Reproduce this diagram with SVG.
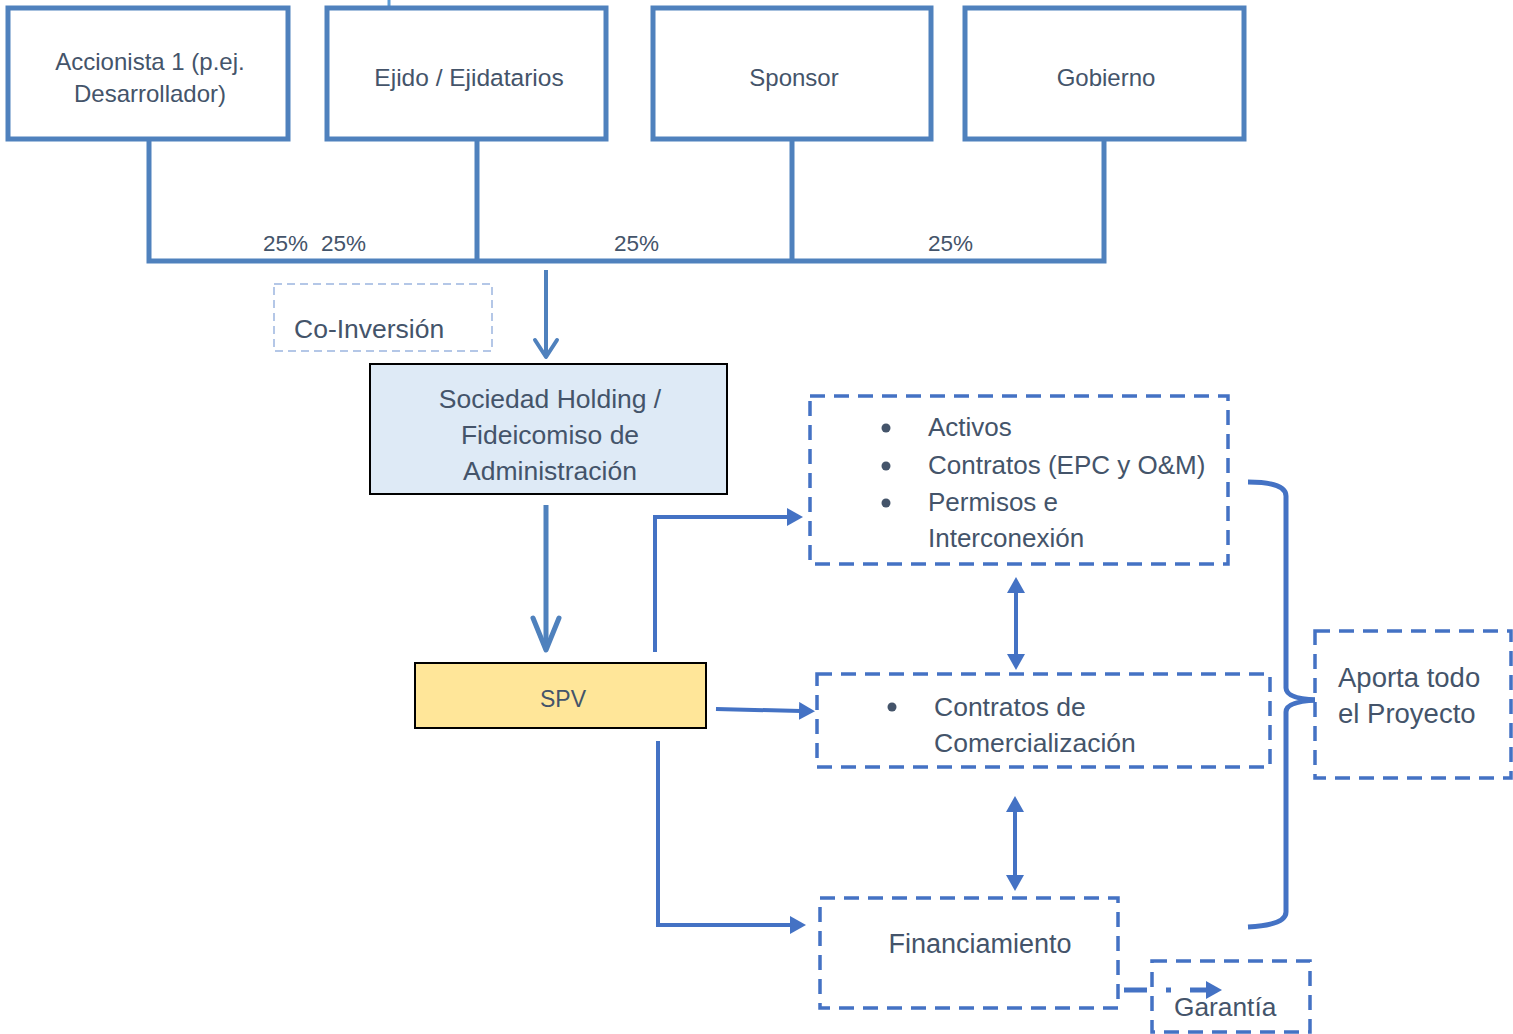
<svg xmlns="http://www.w3.org/2000/svg" width="1513" height="1034" viewBox="0 0 1513 1034">
<defs>
<style>
.t{font-family:"Liberation Sans",Arial,sans-serif;fill:#44546A;}
.top{fill:#fff;stroke:#4F81BD;stroke-width:5;}
.br{fill:none;stroke:#4F81BD;stroke-width:5;}
.dash{fill:#fff;stroke:#4472C4;stroke-width:3.5;stroke-dasharray:15 9;}
.con{fill:none;stroke:#4472C4;stroke-width:4;}
.chev{fill:none;stroke:#4F81BD;stroke-linecap:round;stroke-linejoin:round;}
</style>
<marker id="ah" viewBox="0 0 16 18" refX="2" refY="9" markerWidth="16" markerHeight="18" markerUnits="userSpaceOnUse" orient="auto-start-reverse">
<path d="M0,0 L16,9 L0,18 Z" fill="#4472C4"/>
</marker>
</defs>

<g id="connectors">
<line x1="389" y1="0" x2="389" y2="6" stroke="#5B9BD5" stroke-width="3"/>
<path class="br" d="M149,139 V261 H1104 V139 M477,139 V261 M792,139 V261"/>
<line x1="546" y1="270" x2="546" y2="356" stroke="#4F81BD" stroke-width="4"/>
<polyline class="chev" stroke-width="4" points="535,340 546,357 557,340"/>
<line x1="546" y1="505" x2="546" y2="648" stroke="#4F81BD" stroke-width="5"/>
<polyline class="chev" stroke-width="5" points="533,618 546,650 559,618"/>
<path class="con" d="M655,652 V517 H789" marker-end="url(#ah)"/>
<path class="con" d="M716,709 L801,711" marker-end="url(#ah)"/>
<path class="con" d="M658,741 V925 H792" marker-end="url(#ah)"/>
<path class="con" d="M1016,591 V656" marker-start="url(#ah)" marker-end="url(#ah)"/>
<path class="con" d="M1015,810 V877" marker-start="url(#ah)" marker-end="url(#ah)"/>
<path fill="none" stroke="#4472C4" stroke-width="5" d="M1248,482 Q1286,482 1286,496 V688 Q1286,700 1325,700 Q1286,700 1286,712 V912 Q1286,925 1248,927"/>
</g>

<g id="accionista">
<rect class="top" x="8" y="8" width="280" height="131"/>
<text class="t" font-size="24" text-anchor="middle" x="150" y="70">Accionista 1 (p.ej.</text>
<text class="t" font-size="24" text-anchor="middle" x="150" y="102">Desarrollador)</text>
</g>
<g id="ejido">
<rect class="top" x="327" y="8" width="279" height="131"/>
<text class="t" font-size="24.5" text-anchor="middle" x="469" y="86">Ejido / Ejidatarios</text>
</g>
<g id="sponsor">
<rect class="top" x="653" y="8" width="278" height="131"/>
<text class="t" font-size="24" text-anchor="middle" x="794" y="86">Sponsor</text>
</g>
<g id="gobierno">
<rect class="top" x="965" y="8" width="279" height="131"/>
<text class="t" font-size="24" text-anchor="middle" x="1106" y="86">Gobierno</text>
</g>

<g id="percentages">
<text class="t" font-size="22.5" x="263" y="251">25%</text>
<text class="t" font-size="22.5" x="321" y="251">25%</text>
<text class="t" font-size="22.5" x="614" y="251">25%</text>
<text class="t" font-size="22.5" x="928" y="251">25%</text>
</g>

<g id="coinversion">
<rect x="274" y="284" width="218" height="67" fill="#fff" stroke="#B4C7E7" stroke-width="2" stroke-dasharray="8 5"/>
<text class="t" font-size="26.5" x="294" y="338">Co-Inversión</text>
</g>

<g id="holding">
<rect x="370" y="364" width="357" height="130" fill="#DEEAF6" stroke="#000" stroke-width="2"/>
<text class="t" font-size="26.5" text-anchor="middle" x="550" y="408">Sociedad Holding /</text>
<text class="t" font-size="26.5" text-anchor="middle" x="550" y="444">Fideicomiso de</text>
<text class="t" font-size="26.5" text-anchor="middle" x="550" y="480">Administración</text>
</g>

<g id="spv">
<rect x="415" y="663" width="291" height="65" fill="#FFE699" stroke="#000" stroke-width="2"/>
<text class="t" font-size="23" text-anchor="middle" x="563" y="707">SPV</text>
</g>

<g id="activos">
<rect class="dash" x="810" y="396" width="418" height="168"/>
<circle cx="886" cy="428" r="4.5" fill="#44546A"/>
<circle cx="886" cy="466" r="4.5" fill="#44546A"/>
<circle cx="886" cy="503" r="4.5" fill="#44546A"/>
<text class="t" font-size="26" x="928" y="436">Activos</text>
<text class="t" font-size="26" x="928" y="474">Contratos (EPC y O&amp;M)</text>
<text class="t" font-size="26" x="928" y="511">Permisos e</text>
<text class="t" font-size="26" x="928" y="547">Interconexión</text>
</g>

<g id="comercializacion">
<rect class="dash" x="817" y="674" width="453" height="93"/>
<circle cx="892" cy="707" r="4.5" fill="#44546A"/>
<text class="t" font-size="26.5" x="934" y="716">Contratos de</text>
<text class="t" font-size="26.5" x="934" y="752">Comercialización</text>
</g>

<g id="financiamiento">
<rect class="dash" x="820" y="898" width="298" height="110"/>
<text class="t" font-size="27" text-anchor="middle" x="980" y="953">Financiamiento</text>
</g>

<g id="aporta">
<rect class="dash" x="1315" y="631" width="196" height="147"/>
<text class="t" font-size="27.5" x="1338" y="687">Aporta todo</text>
<text class="t" font-size="27.5" x="1338" y="723">el Proyecto</text>
</g>

<g id="garantia">
<rect class="dash" x="1152" y="961" width="158" height="71"/>
<text class="t" font-size="26.3" x="1174" y="1016">Garantía</text>
</g>

<g id="connector-garantia">
<path fill="none" stroke="#4472C4" stroke-width="5" stroke-dasharray="23 19 5 19 30" d="M1124,990 H1208" marker-end="url(#ah)"/>
</g>
</svg>
